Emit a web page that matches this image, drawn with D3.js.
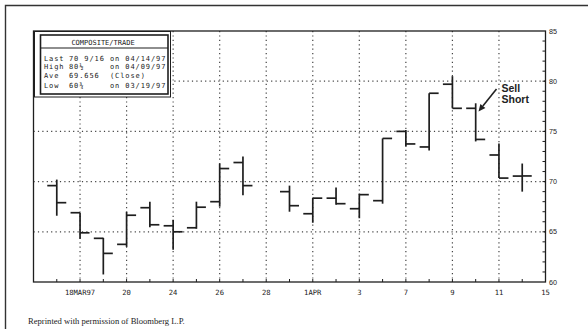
<!DOCTYPE html>
<html><head><meta charset="utf-8">
<script src="https://cdn.jsdelivr.net/npm/d3@7"></script>
<style>html,body{margin:0;padding:0;background:#fff;}svg{display:block;}</style>
</head><body>
<svg id="c" width="588" height="329"></svg>
<script>
// ---- data ----
const slots = ["03/14","03/17","03/18","03/19","03/20","03/21","03/24","03/25","03/26","03/27","03/28","03/31",
  "04/01","04/02","04/03","04/04","04/07","04/08","04/09","04/10","04/11","04/14","04/15"];
const barDates = ["03/17","03/18","03/19","03/20","03/21","03/24","03/25","03/26","03/27","03/31",
  "04/01","04/02","04/03","04/04","04/07","04/08","04/09","04/10","04/11","04/14"];
const openP  = [69.6,66.9,64.35,63.75,67.4,65.6,65.4,68.0,71.9,69.0,66.8,68.35,67.3,68.1,75.0,73.45,79.7,77.3,72.65,70.55];
const highP  = [70.2,66.9,64.4,67.0,68.0,66.2,68.0,71.8,72.5,69.6,68.4,69.4,68.8,74.3,75.15,78.8,80.5,77.8,73.8,71.8];
const lowP   = [66.6,64.3,60.75,63.5,65.45,63.2,65.3,67.5,68.65,67.0,65.9,67.7,66.35,67.8,73.5,73.1,77.3,74.0,70.35,69.0];
const closeP = [67.9,64.9,62.85,66.65,65.7,65.0,67.45,71.3,69.6,67.6,68.35,67.8,68.7,74.3,73.75,78.8,77.3,74.2,70.35,70.5625];
const xLabelDates = ["03/18","03/20","03/24","03/26","03/28","04/01","04/03","04/07","04/09","04/11","04/15"];
const xLabelTexts = ["18MAR97","20","24","26","28","1APR","3","7","9","11","15"];
const yTicks = [60,65,70,75,80,85];
const legendTitle = "COMPOSITE/TRADE";
const legendRows = [["Last","70 9/16","on 04/14/97"],["High","80½","on 04/09/97"],["Ave","69.656","(Close)"],["Low","60¾","on 03/19/97"]];
const footer = "Reprinted with permission of Bloomberg L.P.";

// ---- layout ----
const L = 33.5, R = 545.5, T = 31, B = 282;
const svg = d3.select("#c");
const x = d3.scalePoint().domain(slots).range([L, R]);
const y = d3.scaleLinear().domain([60, 85]).range([B, T]);
const ink = "#1e1e1e";

// outer frame
svg.append("path").attr("d", `M5.5,329 V5.5 H588`).attr("fill","none").attr("stroke","#333").attr("stroke-width",1.4);

// grid
const grid = svg.append("g").attr("stroke","#444").attr("stroke-width",1.2).attr("stroke-dasharray","1.2,3.2");
xLabelDates.filter(d => d !== "04/15").forEach(d => {
  grid.append("line").attr("x1", x(d)).attr("x2", x(d)).attr("y1", T).attr("y2", B);
});
[65,70,75,80].forEach(v => {
  grid.append("line").attr("x1", L).attr("x2", R).attr("y1", y(v)).attr("y2", y(v));
});

// frame of plot
svg.append("rect").attr("x", L).attr("y", T).attr("width", R - L).attr("height", B - T)
  .attr("fill","none").attr("stroke", ink).attr("stroke-width",1.3);

// right axis
const ra = svg.append("g").attr("transform", `translate(${R},0)`);
ra.call(d3.axisRight(y).tickValues(d3.range(60,86,1)).tickSize(0).tickFormat(""));
ra.select(".domain").remove();
d3.range(61,85,1).forEach(v => {
  ra.append("line").attr("x1",-3).attr("x2",0).attr("y1",y(v)).attr("y2",y(v)).attr("stroke",ink).attr("stroke-width",1);
});
yTicks.forEach(v => {
  ra.append("text").attr("x",3.5).attr("y",y(v)+2.5).text(v)
    .attr("font-family","Liberation Sans, Arial, sans-serif").attr("font-size",7.2).attr("fill","#222");
});

// bottom axis
const ba = svg.append("g").attr("transform", `translate(0,${B})`);
ba.call(d3.axisBottom(x).tickValues(slots).tickSize(0).tickFormat(""));
ba.select(".domain").remove();
slots.forEach(d => {
  ba.append("line").attr("x1",x(d)).attr("x2",x(d)).attr("y1",-3).attr("y2",0).attr("stroke",ink).attr("stroke-width",1);
});
xLabelDates.forEach((d,i) => {
  ba.append("text").attr("x", x(d)).attr("y", 13).attr("text-anchor","middle").text(xLabelTexts[i])
    .attr("font-family","DejaVu Sans Mono, monospace").attr("font-size",7.2).attr("fill","#222");
});

// bars
const bars = svg.append("g").attr("stroke", ink).attr("stroke-width",1.7);
barDates.forEach((d,i) => {
  const cx = x(d);
  bars.append("line").attr("x1",cx).attr("x2",cx).attr("y1",y(highP[i])).attr("y2",y(lowP[i]));
  bars.append("line").attr("x1",cx-9.5).attr("x2",cx).attr("y1",y(openP[i])).attr("y2",y(openP[i]));
  bars.append("line").attr("x1",cx).attr("x2",cx+9.5).attr("y1",y(closeP[i])).attr("y2",y(closeP[i]));
});

// legend box
const lg = svg.append("g");
lg.append("rect").attr("x",34.5).attr("y",31.5).attr("width",136).attr("height",65.5).attr("fill","#fff").attr("stroke",ink).attr("stroke-width",1);
lg.append("rect").attr("x",40.5).attr("y",35).attr("width",127.5).attr("height",59).attr("fill","#fff").attr("stroke",ink).attr("stroke-width",1.6);
lg.append("line").attr("x1",40.5).attr("x2",168).attr("y1",48).attr("y2",48).attr("stroke",ink).attr("stroke-width",1.2);
lg.append("text").attr("x",103).attr("y",45).attr("text-anchor","middle").text(legendTitle)
  .attr("font-family","DejaVu Sans Mono, monospace").attr("font-size",7).attr("fill","#222");
const rowY = [60.5, 69.2, 78.4, 87.8];
legendRows.forEach((r,i) => {
  [44, 69, 110].forEach((xx,j) => {
    lg.append("text").attr("x",xx).attr("y",rowY[i]).text(r[j])
      .attr("font-family","DejaVu Sans Mono, monospace").attr("font-size",7).attr("letter-spacing",0.9).attr("fill","#222");
  });
});

// annotation
const ann = svg.append("g");
ann.append("text").attr("x",501.5).attr("y",92).text("Sell")
  .attr("font-family","Liberation Sans, Arial, sans-serif").attr("font-weight","bold").attr("font-size",10.5).attr("fill","#222");
ann.append("text").attr("x",501.5).attr("y",103).text("Short")
  .attr("font-family","Liberation Sans, Arial, sans-serif").attr("font-weight","bold").attr("font-size",10.5).attr("fill","#222");
const ax1 = 496.5, ay1 = 89, ax2 = 478.5, ay2 = 111.5;
const ang = Math.atan2(ay2-ay1, ax2-ax1);
const hl = 7, hw = 3.2;
const bx = ax2 - hl*Math.cos(ang), by = ay2 - hl*Math.sin(ang);
ann.append("line").attr("x1",ax1).attr("y1",ay1).attr("x2",bx).attr("y2",by).attr("stroke","#222").attr("stroke-width",1.6);
ann.append("path").attr("d",`M${ax2},${ay2} L${bx - hw*Math.sin(ang)},${by + hw*Math.cos(ang)} L${bx + hw*Math.sin(ang)},${by - hw*Math.cos(ang)} Z`).attr("fill","#222");

// footer
svg.append("text").attr("x",28).attr("y",324).text(footer)
  .attr("font-family","Liberation Serif, Times New Roman, serif").attr("font-size",8.6).attr("fill","#222");
</script>
</body></html>
